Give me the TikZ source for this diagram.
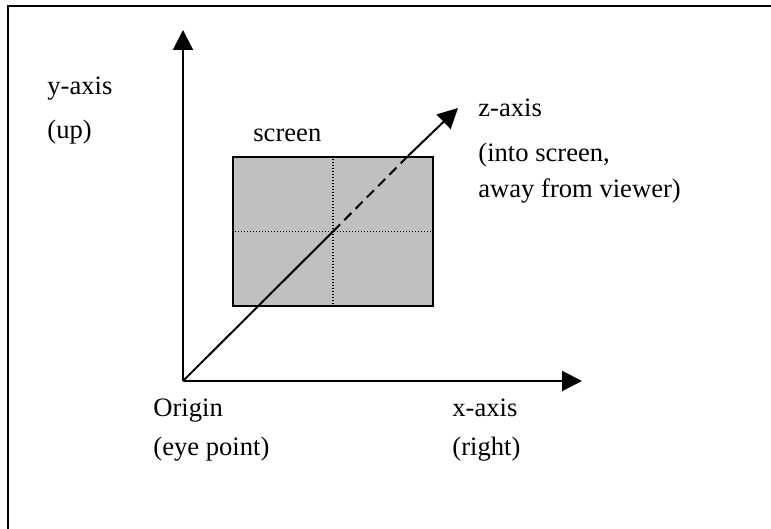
\documentclass[tikz,border=0pt]{standalone}
\usepackage{fontspec}
\setmainfont{Liberation Serif}
\usetikzlibrary{arrows.meta}
\definecolor{screenfill}{RGB}{192,192,192}

\begin{document}
\begin{tikzpicture}[x=0.5pt, y=-0.5pt,
  axis/.style={line width=1pt, -{Triangle[length=10pt, width=10pt]}},
  guide/.style={line width=0.6pt, dash pattern=on 0.6pt off 0.9pt},
  lbl/.style={anchor=base west, inner sep=0pt, font=\fontsize{13.3}{16}\selectfont}]

%% ── Frame ────────────────────────────────────────────────────────────────────
\useasboundingbox (0,0) rectangle (771,529);
\draw[line width=1pt] (8,540) -- (8,6) -- (780,6);

%% ── Screen ───────────────────────────────────────────────────────────────────
\node[draw, line width=1pt, fill=screenfill, inner sep=0pt,
  minimum width=100pt, minimum height=74.5pt] (screen) at (333,231.5) {};
\draw[guide] (screen.north) -- (screen.south);
\draw[guide] (screen.west) -- (screen.east);

%% ── Axes ─────────────────────────────────────────────────────────────────────
\coordinate (origin) at (183,381);
\coordinate (ytip)   at (183,30);
\coordinate (xtip)   at (582,381);
\coordinate (zin)    at (408,156);
\coordinate (ztip)   at (458,108);

\draw[axis] (origin) -- (ytip);
\draw[axis] (origin) -- (xtip);
\draw[line width=1pt] (origin) -- (screen.center);
\draw[line width=1pt, dash pattern=on 5pt off 3pt] (screen.center) -- (zin);
\draw[axis] (zin) -- (ztip);

%% ── Labels ───────────────────────────────────────────────────────────────────
\node[lbl] (ylab)  at (47,95)   {y-axis};
\node[lbl] (yup)   at (47,139)  {(up)};
\node[lbl] (scr)   at (253,142) {screen};
\node[lbl] (zlab)  at (478,117) {z-axis};
\node[lbl] (zin1)  at (478,162) {(into screen,};
\node[lbl] (zin2)  at (478,198) {away from viewer)};
\node[lbl] (olab)  at (153,416) {Origin};
\node[lbl] (oeye)  at (153,455) {(eye point)};
\node[lbl] (xlab)  at (452,416) {x-axis};
\node[lbl] (xrgt)  at (452,455) {(right)};

\end{tikzpicture}
\end{document}
